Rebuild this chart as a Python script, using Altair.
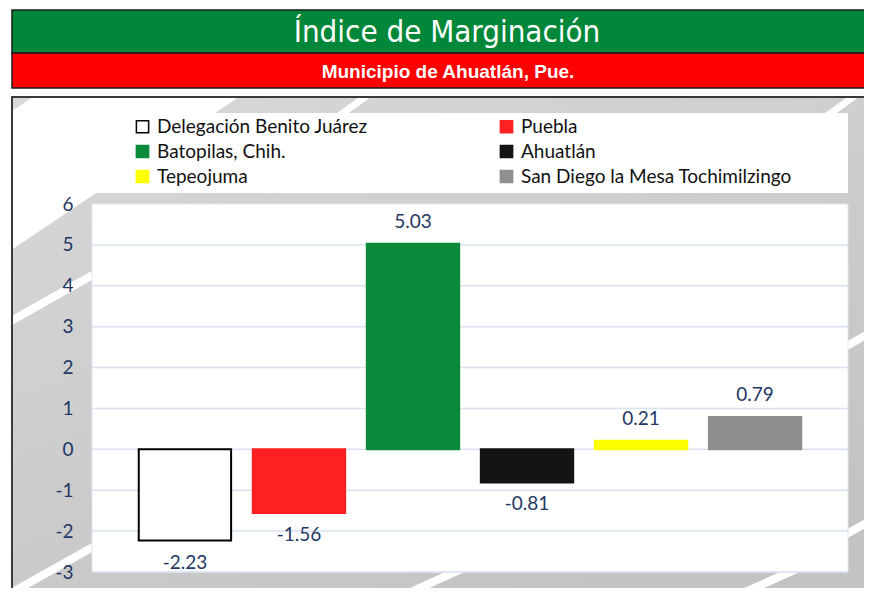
import altair as alt
import pandas as pd

# ---- data ----
categories = [
    "Delegación Benito Juárez",
    "Puebla",
    "Batopilas, Chih.",
    "Ahuatlán",
    "Tepeojuma",
    "San Diego la Mesa Tochimilzingo",
]
values = [-2.23, -1.56, 5.03, -0.81, 0.21, 0.79]
fill_colors = ["#FFFFFF", "#FF2121", "#0B8A3B", "#141414", "#FFFF00", "#8F8F8F"]
stroke_colors = ["#000000", "#FF2121", "#0B8A3B", "#141414", "#FFFF00", "#8F8F8F"]
grid_values = [-3, -2, -1, 0, 1, 2, 3, 4, 5]
title_text = "Índice de Marginación"
subtitle_text = "Municipio de Ahuatlán, Pue."

df = pd.DataFrame({"cat": categories, "value": values})
df["label"] = [f"{v:.2f}" for v in values]
grid_df = pd.DataFrame({"value": grid_values})
one = pd.DataFrame({"t": [title_text], "s": [subtitle_text]})

# legend is filled column by column: reorder so it reads row by row
legend_idx = [0, 2, 4, 1, 3, 5]
legend_domain = [categories[i] for i in legend_idx]
legend_fill = [fill_colors[i] for i in legend_idx]
legend_stroke = [stroke_colors[i] for i in legend_idx]

W, H = 756, 368
NAVY = "#1F3864"
FONT = "Lato"

yscale = alt.Scale(domain=[-3, 6], nice=False, zero=False)
yaxis = alt.Axis(
    title=None, values=list(range(-3, 7)), domain=False, ticks=False, grid=False,
    labelExpr="datum.value + ''",
    labelFont=FONT, labelFontSize=19, labelColor=NAVY, labelPadding=19, zindex=2,
)
xscale = alt.Scale(domain=categories, paddingInner=0.19, paddingOuter=0.41)

# ---- decorations (layout only) ----
panel = alt.Chart(one).mark_rect(
    fill=alt.Gradient(
        gradient="linear",
        stops=[alt.GradientStop(color="#d8d8d8", offset=0),
               alt.GradientStop(color="#c3c3c3", offset=1)],
        x1=0, y1=0, x2=0.6, y2=1,
    ),
).encode(x=alt.value(-80), x2=alt.value(800), y=alt.value(-107), y2=alt.value(420))


def stripe(x1, y1, x2, y2, w=8):
    return alt.Chart(one).mark_rule(color="white", strokeWidth=w, strokeCap="butt").encode(
        x=alt.value(x1), y=alt.value(y1), x2=alt.value(x2), y2=alt.value(y2))


stripes = [
    stripe(-160, 30, 160, -185, 115),   # top-left white area
    stripe(-90, 122, 70, 32),
    stripe(-90, 394, 40, 321),
    stripe(290, 401, 385, 358),
    stripe(624, 401, 716, 360),
    stripe(735, 153, 792, 121),
    stripe(735, 341, 792, 309),
    stripe(244, -86, 280, -112, 7),
    stripe(732, -86, 768, -112, 7),
]

border = alt.Chart(one).mark_rect(fill=None, stroke="#3a3a3a", strokeWidth=2).encode(
    x=alt.value(-80), x2=alt.value(800), y=alt.value(-107), y2=alt.value(420))

green = alt.Chart(one).mark_rect(fill="#00873A", stroke="#1a1a1a", strokeWidth=1.5).encode(
    x=alt.value(-80), x2=alt.value(800), y=alt.value(-194), y2=alt.value(-151))
red = alt.Chart(one).mark_rect(fill="#FF0000", stroke="#1a1a1a", strokeWidth=1.5).encode(
    x=alt.value(-80), x2=alt.value(800), y=alt.value(-151), y2=alt.value(-116))

title = alt.Chart(one).mark_text(
    font="Liberation Sans Narrow, DejaVu Sans Condensed, Liberation Sans, sans-serif",
    fontSize=31, color="white", align="center", baseline="middle",
).encode(x=alt.value(355), y=alt.value(-171), text="t:N")
subtitle = alt.Chart(one).mark_text(
    font="Liberation Sans, Arial, sans-serif", fontWeight="bold",
    fontSize=19, color="white", align="center", baseline="middle",
).encode(x=alt.value(356), y=alt.value(-132), text="s:N")

legend_box = alt.Chart(one).mark_rect(fill="white").encode(
    x=alt.value(-37), x2=alt.value(756), y=alt.value(-91), y2=alt.value(-11))

plot_bg = alt.Chart(one).mark_rect(fill="white", stroke="#dfe7f1", strokeWidth=1).encode(
    x=alt.value(0), x2=alt.value(W), y=alt.value(0), y2=alt.value(H))

grid = alt.Chart(grid_df).mark_rule(color="#D9E3F0", strokeWidth=1.5).encode(
    y=alt.Y("value:Q", scale=yscale, axis=yaxis),
    x=alt.value(0), x2=alt.value(W),
)

leg = alt.Legend(
    title=None, orient="none", legendX=41, legendY=-87, columns=2,
    columnPadding=129, rowPadding=5, symbolType="square", symbolSize=150,
    symbolStrokeWidth=1.5, labelFont=FONT, labelFontSize=19, labelColor="#111111",
    labelOffset=5, labelLimit=400, padding=0,
)

bars = alt.Chart(df).mark_bar(strokeWidth=2).encode(
    x=alt.X("cat:N", scale=xscale, axis=None, sort=categories),
    y=alt.Y("value:Q", scale=yscale, axis=yaxis),
    color=alt.Color("cat:N", scale=alt.Scale(domain=legend_domain, range=legend_fill), legend=leg),
    stroke=alt.Stroke("cat:N", scale=alt.Scale(domain=legend_domain, range=legend_stroke), legend=leg),
)

pos_labels = alt.Chart(df).transform_filter("datum.value >= 0").mark_text(
    font=FONT, fontSize=19, color=NAVY, baseline="middle", dy=-22,
).encode(
    x=alt.X("cat:N", scale=xscale, axis=None, sort=categories),
    y=alt.Y("value:Q", scale=yscale, axis=yaxis),
    text="label:N",
)
neg_labels = alt.Chart(df).transform_filter("datum.value < 0").mark_text(
    font=FONT, fontSize=19, color=NAVY, baseline="middle", dy=22,
).encode(
    x=alt.X("cat:N", scale=xscale, axis=None, sort=categories),
    y=alt.Y("value:Q", scale=yscale, axis=yaxis),
    text="label:N",
)

chart = alt.layer(
    panel, *stripes, border, green, red, title, subtitle, legend_box, plot_bg, grid,
    bars, pos_labels, neg_labels
).properties(
    width=W, height=H,
    autosize=alt.AutoSizeParams(type="none"),
    padding={"left": 84, "top": 196, "right": 16, "bottom": 16},
).configure_view(stroke=None).configure(background="white")

chart.save("out.html", embed_options={"renderer": "svg", "actions": False})
